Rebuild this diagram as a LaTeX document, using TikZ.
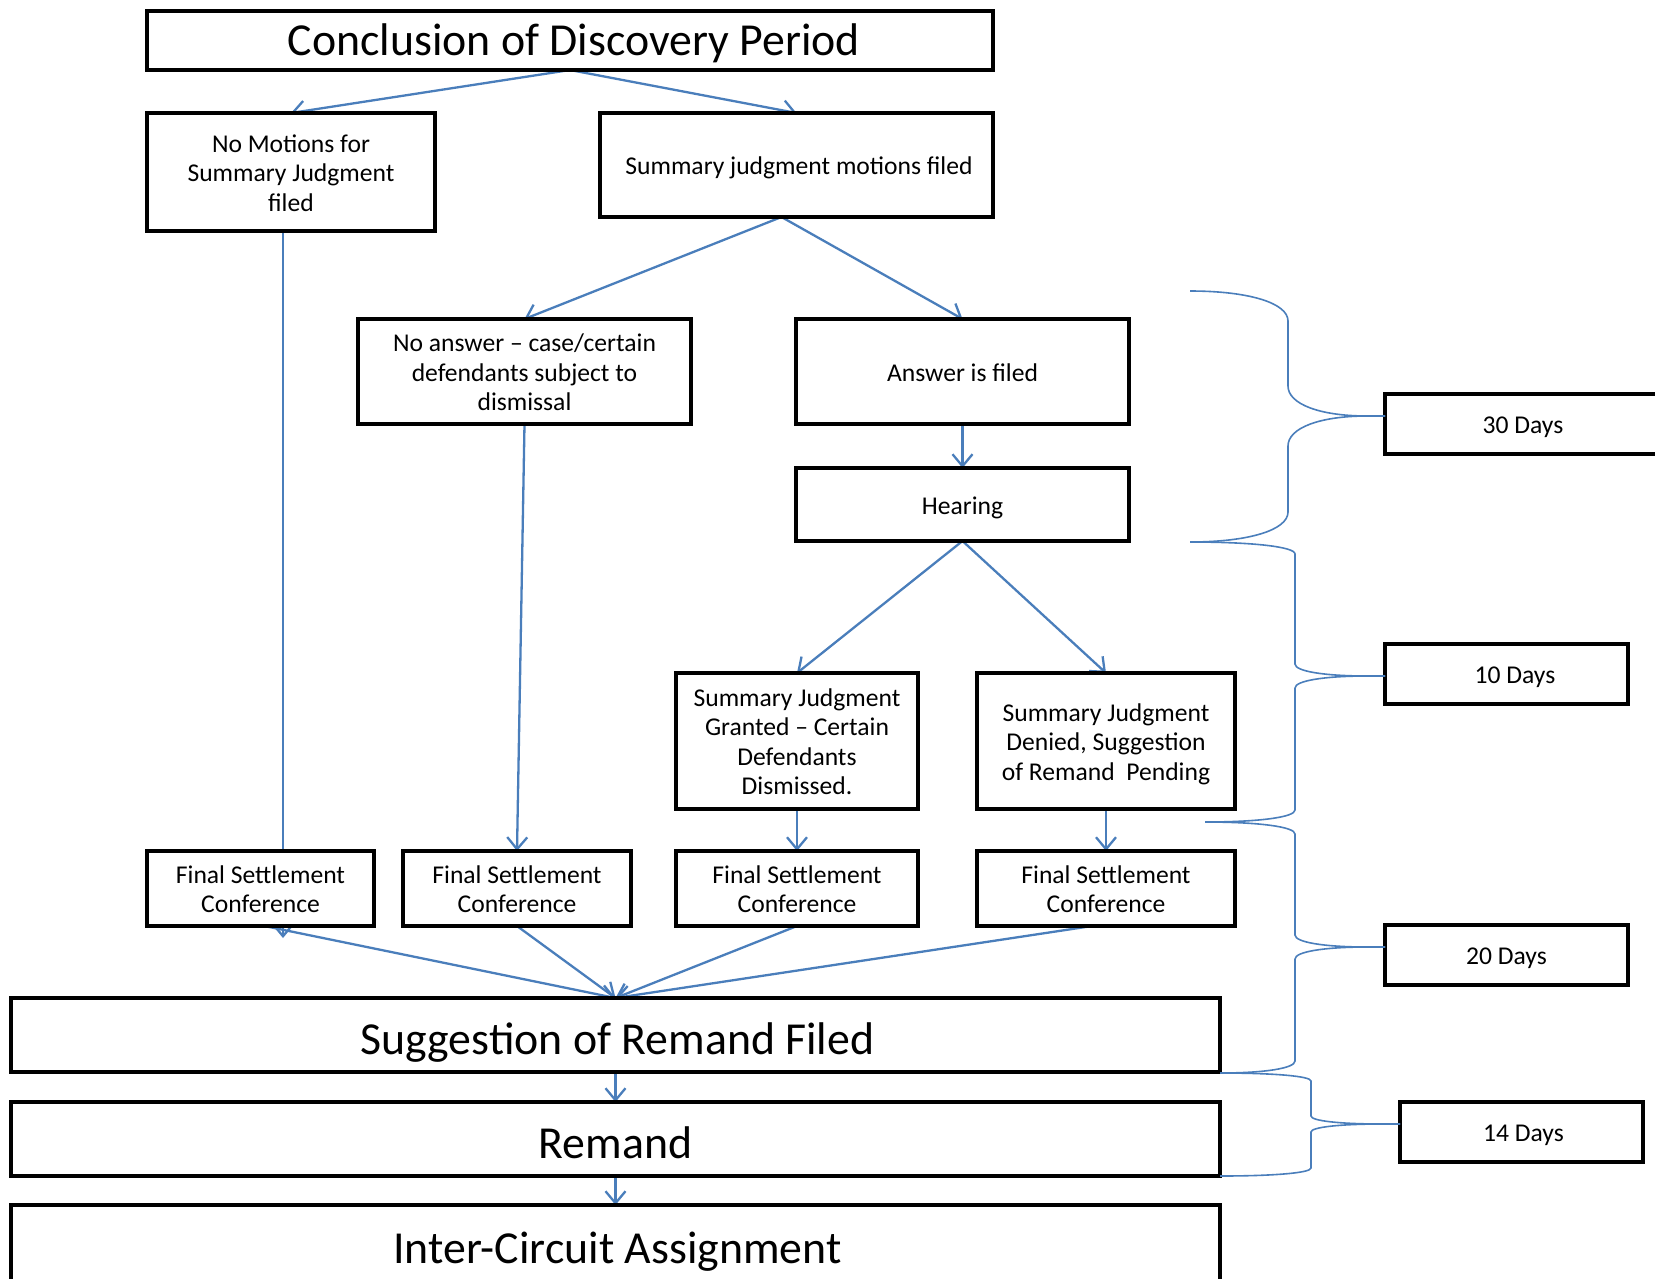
\documentclass[tikz,border=0pt]{standalone}
\usepackage{fontspec}
\setmainfont{Carlito}
\usetikzlibrary{arrows.meta,backgrounds}
\definecolor{conblue}{HTML}{4A7EBB}
\newcommand\botrl{\rule[-0.25em]{0pt}{0.25em}}
\newcommand\fst{\rule{0pt}{1.0em}}
\newcommand\boxtop{1.0em}
\tikzset{
 box/.style={draw=black,line width=4.2pt,fill=white,inner sep=0pt,outer sep=0pt,align=center,
   font=\fontsize{25.6pt}{29.5pt}\selectfont,
   execute at begin node={\rule{0pt}{\boxtop}}, execute at end node=\botrl},
 topst/.code={\def\boxtop{#1}},
 bigbox/.style={box,topst=1.12em,font=\fontsize{45.8pt}{54pt}\selectfont},
 arr/.style={draw=conblue,line width=2.3pt,-{Straight Barb[length=12pt,width=20pt]}},
 bracestyle/.style={draw=conblue,line width=1.6pt},
}
\newcommand\mybrace[8]{%
 \draw[bracestyle] (#1,#2) .. controls ({#1+0.6*(#3-#1)},#2) and (#3,{#2+0.4*#8}) .. (#3,{#2+#8})
   -- (#3,{#4-#8}) .. controls (#3,{#4-0.4*#8}) and ({#3+0.4*(#5-18-#3)},#4) .. ({#5-18},#4) -- (#5,#4);
 \draw[bracestyle] (#5,#4) -- ({#5-18},#4) .. controls ({#3+0.4*(#5-18-#3)},#4) and (#3,{#4+0.4*#8}) .. (#3,{#4+#8})
   -- (#3,{#7-#8}) .. controls (#3,{#7-0.4*#8}) and ({#6+0.6*(#3-#6)},#7) .. (#6,#7);
}
\begin{document}
\begin{tikzpicture}[x=1pt,y=-1pt]
\useasboundingbox (0,0) rectangle (1655,1278);
% boxes
\node[bigbox,topst=0.9em,minimum width=846pt,minimum height=59pt] (conc) at (570,40.5) {\hspace*{8pt}Conclusion of Discovery Period};
\node[box,minimum width=288pt,minimum height=118pt] (nomo) at (291,172) {\fst No Motions for\\Summary Judgment\\filed\botrl};
\node[box,minimum width=393pt,minimum height=104pt] (sjm) at (796.5,165) {\hspace*{5pt}Summary judgment motions filed};
\node[box,minimum width=333pt,minimum height=105pt] (noans) at (524.5,371.5) {\fst No answer – case/certain\\defendants subject to\\dismissal\botrl};
\node[box,minimum width=333pt,minimum height=105pt] (ans) at (962.5,371.5) {Answer is filed};
\node[box,minimum width=333pt,minimum height=73pt] (hear) at (962.5,504.5) {Hearing};
\node[box,minimum width=242pt,minimum height=136pt] (sjg) at (797,741) {\fst Summary Judgment\\Granted – Certain\\Defendants\\Dismissed.\botrl};
\node[box,minimum width=258pt,minimum height=136pt] (sjd) at (1106,741) {\fst Summary Judgment\\Denied, Suggestion\\of Remand~~Pending\botrl};
\node[box,minimum width=227pt,minimum height=75pt] (fsc1) at (260.5,888.5) {\fst Final Settlement\\Conference\botrl};
\node[box,minimum width=228pt,minimum height=75pt] (fsc2) at (517,888.5) {\fst Final Settlement\\Conference\botrl};
\node[box,minimum width=242pt,minimum height=75pt] (fsc3) at (797,888.5) {\fst Final Settlement\\Conference\botrl};
\node[box,minimum width=258pt,minimum height=75pt] (fsc4) at (1106,888.5) {\fst Final Settlement\\Conference\botrl};
\node[bigbox,minimum width=1209pt,minimum height=74pt] (srf) at (615.5,1035) {\hspace*{4pt}Suggestion of Remand Filed};
\node[bigbox,minimum width=1209pt,minimum height=74pt] (rem) at (615.5,1139) {Remand};
\node[bigbox,minimum width=1209pt,minimum height=78pt] (ica) at (615.5,1244) {\hspace*{4pt}Inter-Circuit Assignment};
\node[box,minimum width=276pt,minimum height=60pt] (d30) at (1523,424) {30 Days};
\node[box,minimum width=243pt,minimum height=60pt] (d10) at (1506.5,674) {\hspace*{17pt}10 Days};
\node[box,minimum width=243pt,minimum height=60pt] (d20) at (1506.5,955) {20 Days};
\node[box,minimum width=243pt,minimum height=60pt] (d14) at (1521.5,1132) {\hspace*{4pt}14 Days};
% connectors
\begin{scope}[on background layer]
\coordinate (nomoend) at (283,938);
\draw[arr] (conc.south) -- (nomo.north);
\draw[arr] (conc.south) -- (sjm.north);
\draw[arr] ([xshift=-15pt]sjm.south) -- (noans.north);
\draw[arr] ([xshift=-15pt]sjm.south) -- (ans.north);
\draw[arr] (nomo.south -| nomoend) -- (nomoend);
\draw[arr] (noans.south) -- (fsc2.north);
\draw[arr] (ans.south) -- (hear.north);
\draw[arr] (hear.south) -- (sjg.north);
\draw[arr] (hear.south) -- (sjd.north);
\draw[arr] (sjg.south) -- (fsc3.north);
\draw[arr] (sjd.south) -- (fsc4.north);
\draw[arr] ([xshift=4pt]fsc1.south) -- (srf.north);
\draw[arr] (fsc2.south) -- (srf.north);
\draw[arr] (fsc3.south) -- (srf.north);
\draw[arr] ([xshift=-14pt]fsc4.south) -- (srf.north);
\draw[arr] (srf.south) -- (rem.north);
\draw[arr] (rem.south) -- (ica.north);
\end{scope}
% braces
\mybrace{1190}{291}{1288}{416}{1385}{1190}{542}{30}
\mybrace{1190}{542}{1295}{676}{1385}{1205}{822}{12}
\mybrace{1205}{822}{1295}{947}{1385}{1220}{1073}{12}
\mybrace{1220}{1073}{1311}{1124}{1400}{1220}{1176}{8}
\end{tikzpicture}
\end{document}
